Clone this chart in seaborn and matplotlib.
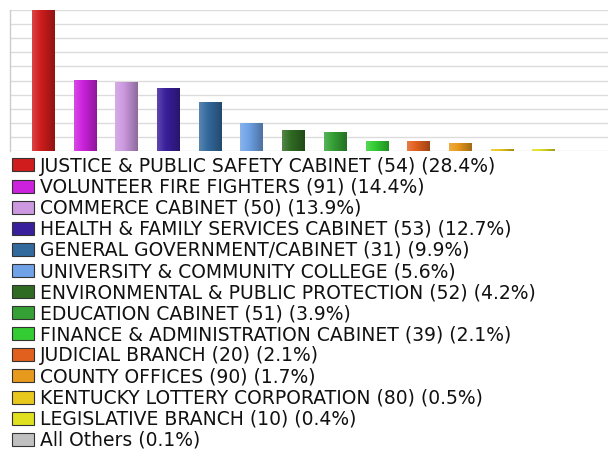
import matplotlib
matplotlib.use("Agg")
import matplotlib.pyplot as plt
import matplotlib.colors as mcolors
import seaborn as sns
import pandas as pd
import numpy as np

categories = [
    "JUSTICE & PUBLIC SAFETY CABINET",
    "VOLUNTEER FIRE FIGHTERS",
    "COMMERCE CABINET",
    "HEALTH & FAMILY SERVICES CABINET",
    "GENERAL GOVERNMENT/CABINET",
    "UNIVERSITY & COMMUNITY COLLEGE",
    "ENVIRONMENTAL & PUBLIC PROTECTION",
    "EDUCATION CABINET",
    "FINANCE & ADMINISTRATION CABINET",
    "JUDICIAL BRANCH",
    "COUNTY OFFICES",
    "KENTUCKY LOTTERY CORPORATION",
    "LEGISLATIVE BRANCH",
    "All Others",
]
counts = [54, 91, 50, 53, 31, None, 52, 51, 39, 20, 90, 80, 10, None]
percents = [28.4, 14.4, 13.9, 12.7, 9.9, 5.6, 4.2, 3.9, 2.1, 2.1, 1.7, 0.5, 0.4, 0.1]
colors = [
    "#d01c1c", "#cc22dd", "#cc99e0", "#3a1f9c", "#336a9e", "#6fa2e6",
    "#2f6b22", "#35a035", "#33cc33", "#e2601e", "#e89a1c", "#e8c81c",
    "#e0e020", "#c0c0c0",
]

labels = []
for name, n, p in zip(categories, counts, percents):
    if n is None:
        labels.append(f"{name} ({p}%)")
    else:
        labels.append(f"{name} ({n}) ({p}%)")

df = pd.DataFrame({"label": labels, "pct": percents})

sns.set_style("white")
plt.rcParams["font.family"] = ["DejaVu Sans"]

fig = plt.figure(figsize=(6.08, 4.54), dpi=100)
W, H = 608, 454
ax = fig.add_axes([10 / W, (H - 151) / H, 598 / W, 141 / H])

sns.barplot(data=df, x="label", y="pct", hue="label", palette=colors,
            width=0.53, dodge=False, legend=True, ax=ax,
            edgecolor="none", saturation=1)

ax.set_ylim(0, 28.4)
ax.set_yticks(np.linspace(0, 28.4, 11))
ax.set_xlim(-0.79, 13.55)
ax.yaxis.grid(True, color="#dcdcdc", linewidth=1)
ax.set_axisbelow(True)
ax.set_xticks([])
ax.set_yticklabels([])
ax.tick_params(left=False, bottom=False)
ax.set_xlabel("")
ax.set_ylabel("")
for s in ["top", "right", "bottom"]:
    ax.spines[s].set_visible(False)
ax.spines["left"].set_color("#cccccc")
ax.spines["left"].set_linewidth(1)


def shade(c, f):
    rgb = np.array(mcolors.to_rgb(c))
    if f >= 0:
        return rgb + (1 - rgb) * f
    return rgb * (1 + f)


# horizontal shading on each bar: lighter on the left, darker on the right
for patch in ax.patches:
    if patch.get_height() <= 0:
        continue
    base = patch.get_facecolor()
    x0, w, h = patch.get_x(), patch.get_width(), patch.get_height()
    t = np.linspace(0, 1, 32)
    ramp = np.array([shade(base, 0.18 - 0.48 * v) for v in t])[None, :, :]
    im = ax.imshow(ramp, extent=[x0, x0 + w, 0, h], aspect="auto",
                   interpolation="bilinear", zorder=patch.get_zorder())
    im.set_clip_path(patch)

handles, leg_labels = ax.get_legend_handles_labels()
ax.get_legend().remove()
for h in handles:
    h.set_edgecolor("#333333")
    h.set_linewidth(0.8)
fs = 13.5
em = fs * 100 / 72
leg = fig.legend(handles, leg_labels, loc="upper left",
                 bbox_to_anchor=(11.5 / W, 1 - 156.5 / H),
                 frameon=False, fontsize=fs, labelspacing=0.112,
                 handlelength=22 / em, handleheight=13 / em,
                 handletextpad=6 / em,
                 borderpad=0, borderaxespad=0)
for t in leg.get_texts():
    t.set_color("#111111")

fig.savefig("out.png", dpi=100)
